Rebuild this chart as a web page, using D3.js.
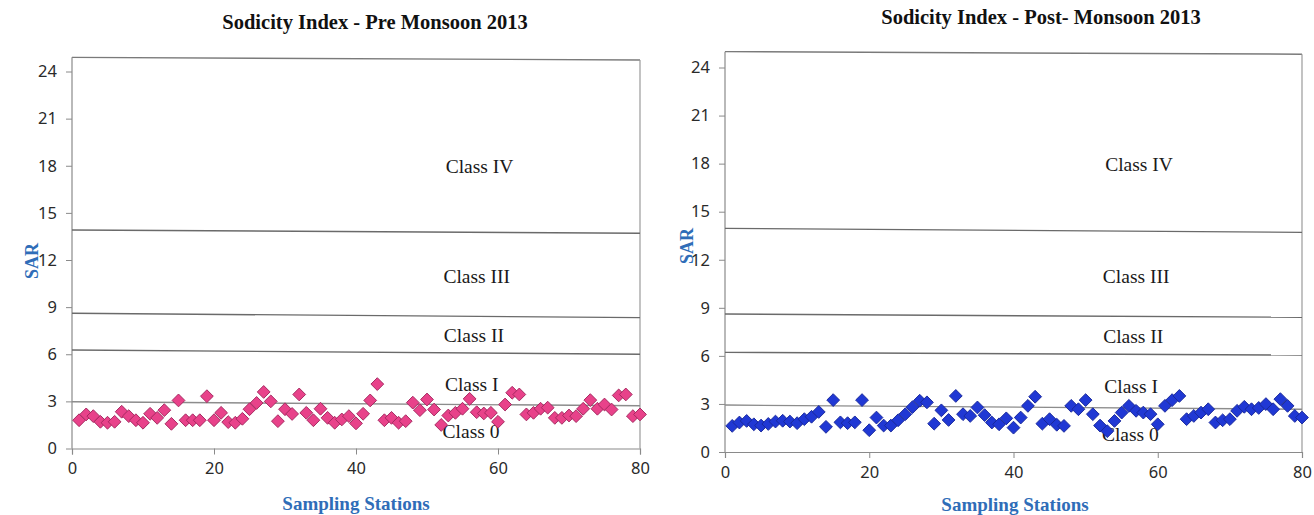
<!DOCTYPE html>
<html><head><meta charset="utf-8">
<script src="https://cdn.jsdelivr.net/npm/d3@7"></script>
<style>body{margin:0;background:#fff} svg{display:block}</style>
</head><body>
<svg id="chart" width="1314" height="515"></svg>
<script>
// ---------- DATA ----------
const stations = [1,2,3,4,5,6,7,8,9,10,11,12,13,14,15,16,17,18,19,20,
  21,22,23,24,25,26,27,28,29,30,31,32,33,34,35,36,37,38,39,40,
  41,42,43,44,45,46,47,48,49,50,51,52,53,54,55,56,57,58,59,60,
  61,62,63,64,65,66,67,68,69,70,71,72,73,74,75,76,77,78,79,80];
const preMonsoonSAR = [1.8,2.17,2.06,1.7,1.64,1.7,2.34,2.06,1.8,1.64,
  2.21,1.95,2.44,1.57,3.06,1.8,1.8,1.8,3.33,1.8,
  2.27,1.68,1.64,1.89,2.5,2.9,3.6,3.0,1.74,2.5,
  2.2,3.44,2.27,1.8,2.53,1.95,1.64,1.85,2.06,1.6,
  2.21,3.06,4.1,1.8,1.95,1.64,1.74,2.92,2.44,3.12,
  2.48,1.5,2.1,2.27,2.53,3.16,2.31,2.23,2.27,1.7,
  2.8,3.55,3.44,2.17,2.27,2.53,2.6,1.95,1.95,2.1,
  2.06,2.53,3.08,2.53,2.8,2.48,3.38,3.44,2.06,2.17];
const postMonsoonSAR = [1.63,1.84,1.94,1.73,1.65,1.75,1.9,1.95,1.9,1.8,
  2.05,2.2,2.5,1.57,3.24,1.85,1.8,1.85,3.24,1.36,
  2.15,1.65,1.65,1.98,2.36,2.8,3.2,3.1,1.77,2.6,
  2.0,3.5,2.36,2.25,2.78,2.3,1.84,1.73,2.1,1.52,
  2.15,2.88,3.45,1.77,2.05,1.7,1.63,2.88,2.67,3.24,
  2.36,1.65,1.3,1.94,2.46,2.88,2.57,2.46,2.36,1.73,
  2.88,3.24,3.5,2.05,2.25,2.46,2.67,1.84,1.98,2.05,
  2.57,2.82,2.67,2.75,2.99,2.67,3.3,2.88,2.25,2.15];
const classNames = ["Class IV","Class III","Class II","Class I","Class 0"];
// class boundary lines: SAR value at station 0 and at station 80 (hand-drawn, slightly tilted)
const preBoundaries = [[13.91,13.70],[8.61,8.33],[6.27,6.0],[2.98,2.72]];
const postBoundaries = [[13.96,13.71],[8.61,8.41],[6.22,6.05],[2.93,2.67]];
const preFrameTop = [24.9,24.73];
const postFrameTop = [24.99,24.83];
const xTickValues = [0,20,40,60,80];
const yTickValues = [0,3,6,9,12,15,18,21,24];
const titles = ["Sodicity Index - Pre Monsoon 2013","Sodicity Index - Post- Monsoon 2013"];

// ---------- LAYOUT ----------
const svg = d3.select("#chart");
const serif = "'Liberation Serif','Times New Roman',serif";
const sans = "'Noto Sans','Open Sans',sans-serif";
const axisBlue = "#2f6db8";

const panels = [
  {values: preMonsoonSAR, bounds: preBoundaries, frameTop: preFrameTop, title: titles[0],
   xr:[72,640], yr:[448.5,71.5], fill:"#e8428a", stroke:"#a3285e",
   titleX:375, titleY:29, sarX:32, sarY:261, xtX:356, xtY:510},
  {values: postMonsoonSAR, bounds: postBoundaries, frameTop: postFrameTop, title: titles[1],
   xr:[725,1302], yr:[452,67.5], fill:"#2038d4", stroke:"#18289a",
   titleX:1041, titleY:24, sarX:687, sarY:246, xtX:1015, xtY:511}
];
// label anchor positions in data units
const labelPos = [[57.4,17.95],[57.0,10.95],[56.6,7.2],[56.3,4.1],[56.2,1.1]];

panels.forEach(p => {
  const x = d3.scaleLinear().domain([0,80]).range(p.xr);
  const y = d3.scaleLinear().domain([0,24]).range(p.yr);
  const g = svg.append("g");
  const gridCol = "#6a6a6a";

  // frame top & right
  const lineGen = d3.line().x(d => x(d[0])).y(d => y(d[1]));
  g.append("path").attr("d", lineGen([[0,p.frameTop[0]],[80,p.frameTop[1]]]))
    .attr("stroke","#7a7a7a").attr("stroke-width",1.4).attr("fill","none");
  g.append("path").attr("d", lineGen([[80,0],[80,p.frameTop[1]]]))
    .attr("stroke","#9a9a9a").attr("stroke-width",1.2).attr("fill","none");
  g.append("path").attr("d", lineGen([[0,0],[0,p.frameTop[0]]]))
    .attr("stroke","#8a8a8a").attr("stroke-width",1.2).attr("fill","none");

  // class boundaries
  p.bounds.forEach((b,i) => {
    g.append("path").attr("d", lineGen([[0,b[0]],[80,b[1]]]))
      .attr("stroke", i===3 ? "#8c8c8c" : gridCol).attr("stroke-width",1.4).attr("fill","none");
  });

  // axes
  const xAxis = d3.axisBottom(x).tickValues(xTickValues).tickSize(6).tickPadding(8);
  const gx = g.append("g").attr("transform",`translate(0,${p.yr[0]})`).call(xAxis);
  const yAxis = d3.axisLeft(y).tickValues(yTickValues).tickSize(6).tickPadding(9);
  const gy = g.append("g").attr("transform",`translate(${p.xr[0]},0)`).call(yAxis);
  [gx,gy].forEach(a => {
    a.select(".domain").attr("stroke","#8a8a8a").attr("stroke-width",1.2);
    a.selectAll(".tick line").attr("stroke","#8a8a8a");
    a.selectAll(".tick text").attr("fill","#2a2a2a").style("font-family",sans).style("font-size","16.5px");
  });
  gy.select(".domain").remove();

  // class labels
  g.selectAll(".cls").data(classNames).join("text")
    .attr("x",(d,i) => x(labelPos[i][0])).attr("y",(d,i) => y(labelPos[i][1]))
    .attr("text-anchor","middle").attr("dominant-baseline","central")
    .style("font-family",serif).style("font-size","19.5px").attr("fill","#1a1a1a")
    .text(d => d);

  // markers
  g.selectAll(".pt").data(p.values).join("path")
    .attr("d", d3.symbol().type(d3.symbolSquare).size(82))
    .attr("transform",(d,i) => `translate(${x(stations[i])},${y(d)}) rotate(45)`)
    .attr("fill",p.fill).attr("stroke",p.stroke).attr("stroke-width",0.9);

  // titles
  svg.append("text").attr("x",p.titleX).attr("y",p.titleY).attr("text-anchor","middle")
    .style("font-family",serif).style("font-weight","bold").style("font-size","20.5px")
    .attr("fill","#111").text(p.title);
  svg.append("text").attr("transform",`translate(${p.sarX},${p.sarY}) rotate(-90)`)
    .attr("text-anchor","middle").attr("dominant-baseline","central")
    .style("font-family",serif).style("font-weight","bold").style("font-size","18px")
    .attr("fill",axisBlue).text("SAR");
  svg.append("text").attr("x",p.xtX).attr("y",p.xtY).attr("text-anchor","middle")
    .style("font-family",serif).style("font-weight","bold").style("font-size","19px")
    .attr("fill",axisBlue).text("Sampling Stations");
});
</script>
</body></html>
